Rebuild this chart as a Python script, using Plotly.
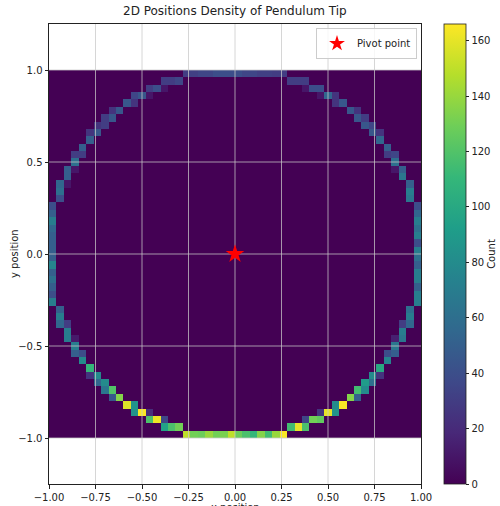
import numpy as np
import plotly.graph_objects as go

# ---- data: 2D histogram (50x50 bins over [-1,1]x[-1,1]) of pendulum tip positions ----
n_bins = 50
bin_edges = np.linspace(-1, 1, n_bins + 1)

# bottom row (iy=0) and top row (iy=49), bins ix 18..31
bottom_row_ix = list(range(18, 32))
bottom_row_counts = [150, 130, 128, 140, 130, 132, 150, 128, 118, 110, 135, 115, 140, 165]
top_row_ix = list(range(18, 32))
top_row_counts = [30, 32, 35, 35, 40, 40, 40, 40, 35, 35, 32, 32, 30, 30]

# left column (ix=0) and right column (ix=49), bins iy 18..31
left_col_iy = list(range(18, 32))
left_col_counts = [70, 40, 50, 60, 50, 75, 50, 50, 50, 50, 55, 70, 50, 40]
right_col_iy = list(range(18, 32))
right_col_counts = [70, 70, 50, 70, 70, 50, 60, 70, 40, 70, 60, 70, 55, 40]

# remaining ring cells: (ix, iy, count)
ring_ix = [15, 16, 17, 32, 33, 34,
           13, 14, 15, 34, 35, 36,
           11, 12, 13, 36, 37, 38,
           10, 11, 38, 39,
           8, 9, 40, 41,
           7, 8, 41, 42,
           6, 7, 42, 43,
           5, 6, 43, 44,
           5, 44,
           4, 45,
           3, 4, 45, 46,
           3, 46,
           2, 3, 46, 47,
           2, 47,
           1, 2, 47, 48,
           1, 48,
           1, 48,
           1, 48,
           1, 48,
           1, 2, 48,
           2, 47,
           2, 3, 46, 47,
           3, 46,
           3, 4, 45, 46,
           4, 45,
           5, 44,
           5, 6, 43, 44,
           6, 7, 42, 43,
           7, 8, 41, 42,
           8, 9, 40, 41,
           10, 11, 38, 39,
           11, 12, 13, 36, 37, 38,
           13, 14, 15, 34, 35, 36,
           15, 16, 17, 32, 33, 34]
ring_iy = [1, 1, 1, 1, 1, 1,
           2, 2, 2, 2, 2, 2,
           3, 3, 3, 3, 3, 3,
           4, 4, 4, 4,
           5, 5, 5, 5,
           6, 6, 6, 6,
           7, 7, 7, 7,
           8, 8, 8, 8,
           9, 9,
           10, 10,
           11, 11, 11, 11,
           12, 12,
           13, 13, 13, 13,
           14, 14,
           15, 15, 15, 15,
           16, 16,
           17, 17,
           32, 32,
           33, 33,
           34, 34, 34,
           35, 35,
           36, 36, 36, 36,
           37, 37,
           38, 38, 38, 38,
           39, 39,
           40, 40,
           41, 41, 41, 41,
           42, 42, 42, 42,
           43, 43, 43, 43,
           44, 44, 44, 44,
           45, 45, 45, 45,
           46, 46, 46, 46, 46, 46,
           47, 47, 47, 47, 47, 47,
           48, 48, 48, 48, 48, 48]
ring_counts = [95, 118, 130, 115, 160, 118,
               118, 162, 35, 35, 130, 125,
               85, 165, 22, 25, 160, 85,
               158, 85, 80, 165,
               45, 135, 135, 50,
               65, 120, 115, 80,
               55, 80, 90, 60,
               25, 80, 80, 25,
               110, 100,
               80, 75,
               50, 40, 40, 50,
               70, 65,
               70, 12, 15, 65,
               70, 70,
               55, 30, 30, 55,
               70, 70,
               50, 60,
               40, 65,
               60, 70,
               55, 10, 50,
               50, 65,
               50, 10, 10, 50,
               60, 60,
               30, 30, 30, 35,
               50, 50,
               50, 55,
               25, 45, 45, 25,
               25, 30, 45, 35,
               30, 45, 45, 30,
               25, 45, 45, 25,
               45, 25, 25, 45,
               35, 45, 10, 10, 55, 25,
               30, 40, 10, 10, 40, 40,
               30, 30, 35, 30, 30, 30]

pivot_x = [0.0]
pivot_y = [0.0]

x_tick_vals = [-1.0, -0.75, -0.5, -0.25, 0.0, 0.25, 0.5, 0.75, 1.0]
x_tick_text = ["\u22121.00", "\u22120.75", "\u22120.50", "\u22120.25", "0.00", "0.25", "0.50", "0.75", "1.00"]
y_tick_vals = [-1.0, -0.5, 0.0, 0.5, 1.0]
y_tick_text = ["\u22121.0", "\u22120.5", "0.0", "0.5", "1.0"]
cbar_tick_vals = [0, 20, 40, 60, 80, 100, 120, 140, 160]

# ---- build the count matrix ----
z = np.zeros((n_bins, n_bins))
for ix, c in zip(bottom_row_ix, bottom_row_counts):
    z[0, ix] = c
for ix, c in zip(top_row_ix, top_row_counts):
    z[49, ix] = c
for iy, c in zip(left_col_iy, left_col_counts):
    z[iy, 0] = c
for iy, c in zip(right_col_iy, right_col_counts):
    z[iy, 49] = c
for ix, iy, c in zip(ring_ix, ring_iy, ring_counts):
    z[iy, ix] = c

centers = (bin_edges[:-1] + bin_edges[1:]) / 2

FONT = "DejaVu Sans"
fig = go.Figure()

fig.add_trace(go.Heatmap(
    x=centers, y=centers, z=z,
    colorscale="Viridis", zmin=0, zmax=166,
    showscale=True, hoverinfo="skip",
    colorbar=dict(
        x=(444 - 49) / 372, xanchor="left", xref="paper", xpad=0, ypad=0,
        y=0.5, yanchor="middle", len=1.0, lenmode="fraction",
        thickness=22, thicknessmode="pixels",
        outlinewidth=0.8, outlinecolor="#222",
        tickvals=cbar_tick_vals, ticks="outside", ticklen=3.5, tickwidth=0.8,
        tickcolor="#222",
        tickfont=dict(family=FONT, size=10, color="#222"),
        title=dict(text="Count", side="right", font=dict(family=FONT, size=10, color="#222")),
    ),
))

# grid lines (drawn above the heatmap like the reference)
gx, gy = [], []
for v in x_tick_vals[1:-1]:
    gx += [v, v, None]
    gy += [-1.25, 1.25, None]
for v in y_tick_vals:
    gx += [-1, 1, None]
    gy += [v, v, None]
fig.add_trace(go.Scatter(x=gx, y=gy, mode="lines",
                         line=dict(color="rgba(200,200,200,0.75)", width=1),
                         showlegend=False, hoverinfo="skip"))

fig.add_trace(go.Scatter(
    x=pivot_x, y=pivot_y, mode="markers", name="Pivot point",
    marker=dict(symbol="star", size=14, color="red", line=dict(width=0)),
))

fig.update_layout(
    width=500, height=506,
    margin=dict(l=49, r=79, t=24, b=22, autoexpand=False),
    paper_bgcolor="white", plot_bgcolor="white",
    font=dict(family=FONT, size=10, color="#222"),
    showlegend=True,
    legend=dict(x=(417 - 49) / 372, xanchor="right", y=1 - 4 / 460, yanchor="top",
                bgcolor="rgba(255,255,255,0.8)", bordercolor="#ccc", borderwidth=1,
                font=dict(family=FONT, size=10, color="#222"),
                itemsizing="constant", itemwidth=30),
    xaxis=dict(range=[-1, 1], tickvals=x_tick_vals, ticktext=x_tick_text,
               showgrid=False, zeroline=False, showline=True, mirror=True,
               linecolor="#222", linewidth=1, ticks="outside", ticklen=3.5,
               tickcolor="#222", tickfont=dict(family=FONT, size=10, color="#222")),
    yaxis=dict(range=[-1.25, 1.25], tickvals=y_tick_vals, ticktext=y_tick_text,
               showgrid=False, zeroline=False, showline=True, mirror=True,
               linecolor="#222", linewidth=1, ticks="outside", ticklen=3.5,
               tickcolor="#222", tickfont=dict(family=FONT, size=10, color="#222")),
    annotations=[
        dict(text="2D Positions Density of Pendulum Tip", xref="paper", yref="paper",
             x=0.5, y=1, yshift=4, xanchor="center", yanchor="bottom", showarrow=False,
             font=dict(family=FONT, size=12, color="#222")),
        dict(text="x position", xref="paper", yref="paper", x=0.5, y=0, yshift=-16,
             xanchor="center", yanchor="top", showarrow=False,
             font=dict(family=FONT, size=10, color="#222")),
        dict(text="y position", xref="paper", yref="paper", x=0, xshift=-35, y=0.5,
             xanchor="center", yanchor="middle", textangle=-90, showarrow=False,
             font=dict(family=FONT, size=10, color="#222")),
    ],
)

fig.write_html("out.html")
